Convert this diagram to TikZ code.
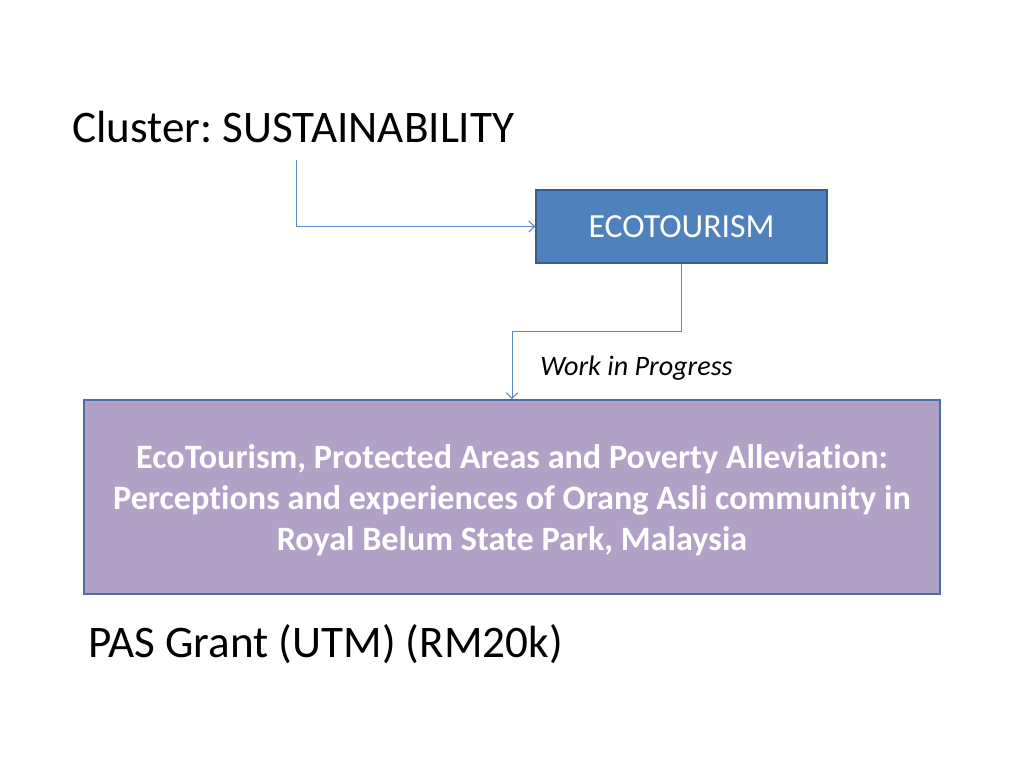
\documentclass[tikz,border=0pt]{standalone}
\usepackage{fontspec}
\setmainfont[Ligatures=NoCommon]{Carlito}
\usetikzlibrary{arrows.meta}
\frenchspacing
\definecolor{bluefill}{HTML}{4F81BD}
\definecolor{blueedge}{HTML}{385D8A}
\definecolor{purplefill}{HTML}{B2A1C7}
\definecolor{purpleedge}{HTML}{4A6FA5}
\definecolor{conn}{HTML}{5B87C5}
\tikzset{
  px/.style={x=0.025cm,y=-0.025cm},
  bluebox/.style={draw=blueedge,line width=1.4pt,fill=bluefill,text=white,inner sep=0pt,font=\fontsize{24}{29}\selectfont},
  purplebox/.style={draw=purpleedge,line width=1.4pt,fill=purplefill,inner sep=0pt},
  purpletext/.style={text=white,inner sep=0pt,align=center,font=\bfseries\fontsize{24.3}{29.2}\selectfont},
  conline/.style={draw=conn,line width=0.7pt,-{Straight Barb[length=4pt,width=8pt]}},
  big/.style={anchor=base west,inner sep=0pt,font=\fontsize{32.1}{40}\selectfont}
}
\begin{document}
\begin{tikzpicture}[px]
\useasboundingbox (0,0) rectangle (1024,768);
\node[big] (title) at (72,143) {Cluster: SUSTAINABILITY};
\node[bluebox,minimum width=291*0.025cm,minimum height=73*0.025cm] (eco) at (681.5,226.5) {ECOTOURISM};
\node[purplebox,minimum width=856*0.025cm,minimum height=194*0.025cm] (proj) at (512,497) {};
\node[purpletext] (projtext) at ([yshift=-3*0.025cm]proj.center) {EcoTourism, Protected Areas and Poverty Alleviation:\\Perceptions and experiences of Orang Asli community in\\Royal Belum State Park, Malaysia};
\node[anchor=base west,inner sep=0pt,font=\itshape\fontsize{20}{24}\selectfont] (wip) at (540,375) {Work in Progress};
\node[big] (grant) at (88,657) {PAS Grant (UTM) (RM20k)};
\coordinate (s1) at (296,160);
\draw[conline] (s1) |- (eco.west);
\draw[conline] (eco.south) -- ++(0,68) -| (proj.north);
\end{tikzpicture}
\end{document}
